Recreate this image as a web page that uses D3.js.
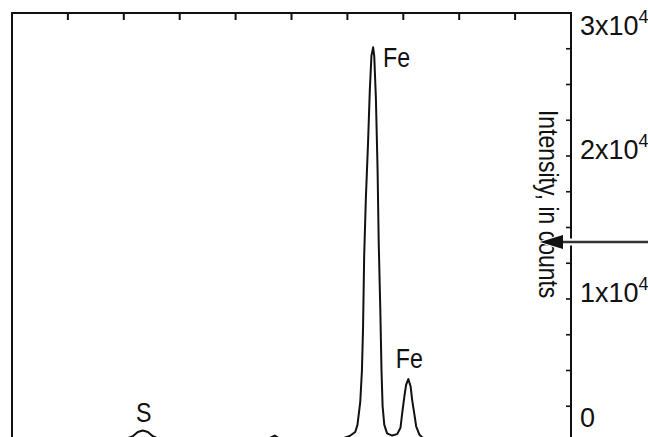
<!DOCTYPE html>
<html><head><meta charset="utf-8">
<script src="https://cdn.jsdelivr.net/npm/d3@7"></script>
<style>
html,body{margin:0;padding:0;background:#fff;}
svg text{font-family:"Liberation Sans",Arial,sans-serif;fill:#111;}
</style></head>
<body><svg id="c" width="648" height="437"></svg>
<script>
// Energy (keV) and intensity (counts)
const energy = [0.14,1.57,2.02,2.16,2.25,2.34,2.43,2.52,2.64,3.71,4.57,4.70,4.80,5.68,5.95,6.04,6.14,6.18,6.23,6.26,6.28,6.30,6.33,6.37,6.40,6.43,6.46,6.48,6.51,6.54,6.56,6.59,6.61,6.63,6.66,6.71,6.80,6.89,6.95,6.98,7.02,7.05,7.09,7.13,7.16,7.20,7.23,7.29,7.36,7.64,10.0];
const counts = [150,150,200,400,700,800,700,400,200,150,200,450,200,200,300,420,700,1200,2800,5000,8000,13000,17000,21000,24500,27000,27600,27000,24000,19000,14000,9000,5000,2500,1200,600,450,550,1000,2000,3200,4000,4400,3900,2900,1900,1100,500,250,150,150];
const peakNames = ["S","Fe","Fe"];
const peakEnergy = [2.34,6.46,7.09];
const peakCounts = [800,27600,4400];
const yTickValues = [0,10000,20000,30000];
const yTickLabels = [["0",""],["1x10","4"],["2x10","4"],["3x10","4"]];
const xTickValues = [1,2,3,4,5,6,7,8,9];
const axisTitle = "Intensity, in counts";

const svg = d3.select("#c");
const L = 12, R = 571, T = 13, B = 442;
const x = d3.scaleLinear().domain([0,10]).range([L,R]);
const y = d3.scaleLinear().domain([0,30000]).range([B,T]);

svg.append("clipPath").attr("id","clip").append("rect")
  .attr("x",L).attr("y",T).attr("width",R-L).attr("height",B-T);

// spectrum
const line = d3.line().x((d,i)=>x(energy[i])).y((d,i)=>y(counts[i])).curve(d3.curveLinear);
svg.append("path").datum(counts).attr("d",line)
  .attr("fill","none").attr("stroke","#111").attr("stroke-width",2)
  .attr("stroke-linejoin","round").attr("clip-path","url(#clip)");

// frame
svg.append("path").attr("d",`M${L},437V${T}H${R}V437`)
  .attr("fill","none").attr("stroke","#111").attr("stroke-width",2);

// top ticks (inward)
svg.append("g").selectAll("line").data(xTickValues).join("line")
  .attr("x1",d=>x(d)).attr("x2",d=>x(d)).attr("y1",T).attr("y2",T+7)
  .attr("stroke","#111").attr("stroke-width",2);

// right axis ticks
const minor = d3.range(0,30001,2500);
svg.append("g").selectAll("line").data(minor).join("line")
  .attr("x1",R-5).attr("x2",R+1).attr("y1",d=>y(d)).attr("y2",d=>y(d))
  .attr("stroke","#111").attr("stroke-width",1.6);

// right axis labels
const lab = svg.append("g");
yTickValues.forEach((v,i)=>{
  const cy = Math.max(25, Math.min(417, y(v)-7));
  const t = lab.append("text").attr("x",R+9).attr("y",cy+10).attr("font-size",27);
  t.append("tspan").text(yTickLabels[i][0]);
  if (yTickLabels[i][1]) t.append("tspan").attr("font-size",18).attr("dy",-12).text(yTickLabels[i][1]);
});

// peak labels (condensed)
const offs = [[1,-9,"middle"],[10,20,"start"],[1,-11,"middle"]];
peakNames.forEach((n,i)=>{
  svg.append("text")
    .attr("transform",`translate(${x(peakEnergy[i])+offs[i][0]},${y(peakCounts[i])+offs[i][1]}) scale(0.86,1)`)
    .attr("text-anchor",offs[i][2]).attr("font-size",27).text(n);
});

// axis title (rotated, condensed)
svg.append("text").attr("transform",`translate(539,110) rotate(90) scale(0.85,1)`)
  .attr("font-size",27).text(axisTitle);

// arrow with white halo
const ay = 242;
svg.append("line").attr("x1",560).attr("x2",648).attr("y1",ay).attr("y2",ay)
  .attr("stroke","#fff").attr("stroke-width",7);
svg.append("path").attr("d",`M537,${ay}L565,${ay-9}L565,${ay+9}Z`).attr("fill","#fff");
svg.append("line").attr("x1",560).attr("x2",648).attr("y1",ay).attr("y2",ay)
  .attr("stroke","#333").attr("stroke-width",2.4);
svg.append("path").attr("d",`M540,${ay}L563,${ay-7}L563,${ay+7}Z`).attr("fill","#111");
</script></body></html>
